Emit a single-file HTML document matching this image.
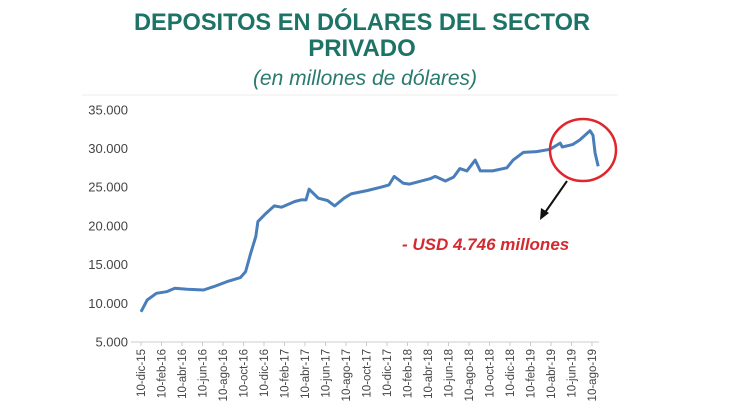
<!DOCTYPE html>
<html><head><meta charset="utf-8"><style>
body{margin:0;background:#fff;}
svg{display:block;font-family:"Liberation Sans",sans-serif;}
</style></head><body>
<svg width="730" height="410" viewBox="0 0 730 410">
<text x="362" y="30" text-anchor="middle" font-size="24" font-weight="bold" fill="#1d7466" textLength="456" lengthAdjust="spacingAndGlyphs">DEPOSITOS EN DÓLARES DEL SECTOR</text>
<text x="362" y="56" text-anchor="middle" font-size="24" font-weight="bold" fill="#1d7466">PRIVADO</text>
<text x="365" y="85" text-anchor="middle" font-size="21" font-style="italic" fill="#2a7a6e">(en millones de dólares)</text>
<line x1="82" y1="95" x2="618" y2="95" stroke="#eee" stroke-width="1"/>
<g id="yaxis"></g>
<g id="xaxis"></g>
<path id="line" fill="none" stroke="#4a7ebb" stroke-width="3" stroke-linejoin="round"/>
<ellipse cx="583" cy="150" rx="33" ry="31" fill="none" stroke="#e0262c" stroke-width="2.5"/>
<line x1="567" y1="181" x2="544" y2="214" stroke="#111" stroke-width="2"/>
<polygon points="540,220 541,208 549,213" fill="#111"/>
<text x="402" y="250" font-size="17" font-weight="bold" font-style="italic" fill="#d42a2f">- USD 4.746 millones</text>
</svg>
<script>
const yTicks=[5000,10000,15000,20000,25000,30000,35000];
const yTickLabels=["5.000","10.000","15.000","20.000","25.000","30.000","35.000"];
const xTickLabels=["10-dic-15","10-feb-16","10-abr-16","10-jun-16","10-ago-16","10-oct-16","10-dic-16","10-feb-17","10-abr-17","10-jun-17","10-ago-17","10-oct-17","10-dic-17","10-feb-18","10-abr-18","10-jun-18","10-ago-18","10-oct-18","10-dic-18","10-feb-19","10-abr-19","10-jun-19","10-ago-19"];
const months=[0,0.6,1.5,2.5,3.3,4.5,6.1,7.1,8.4,9.7,10.2,10.7,11.2,11.4,12.2,13.0,13.7,15.0,15.6,16.1,16.4,17.3,18.2,18.9,19.8,20.5,22.1,23.4,24.2,24.7,25.6,26.2,28.2,28.7,29.7,30.5,31.1,31.8,32.6,33.1,34.3,35.7,36.3,37.3,38.6,39.9,40.9,41.1,42.1,42.8,43.8,44.1,44.3,44.6];
const deposits=[8900,10430,11290,11500,11940,11810,11720,12160,12800,13320,14100,16470,18620,20560,21640,22590,22410,23150,23360,23360,24740,23580,23280,22590,23580,24140,24570,25000,25300,26400,25500,25400,26100,26400,25800,26300,27400,27100,28500,27100,27100,27500,28500,29500,29600,29900,30700,30200,30500,31100,32300,31700,29400,27700];
const NS='http://www.w3.org/2000/svg';
const x=m=>141+m*10.25;
const y=v=>342-(v-5000)/5000*38.7;
const ya=document.getElementById('yaxis'),xa=document.getElementById('xaxis');
yTicks.forEach((t,i)=>{const e=document.createElementNS(NS,'text');
e.setAttribute('x',128);e.setAttribute('y',y(t)+4.5);e.setAttribute('text-anchor','end');e.setAttribute('font-size','13');e.setAttribute('fill','#444');


e.textContent=yTickLabels[i];ya.appendChild(e);});
const ax=document.createElementNS(NS,'line');
ax.setAttribute('x1',131);ax.setAttribute('x2',599);ax.setAttribute('y1',342);ax.setAttribute('y2',342);ax.setAttribute('stroke','#ccc');


xa.appendChild(ax);
xTickLabels.forEach((l,i)=>{const px=x(i*2);
const tk=document.createElementNS(NS,'line');
tk.setAttribute('x1',px);tk.setAttribute('x2',px);tk.setAttribute('y1',342);tk.setAttribute('y2',346);tk.setAttribute('stroke','#ccc');


xa.appendChild(tk);
const e=document.createElementNS(NS,'text');
e.setAttribute('transform','translate('+(px+4)+',349) rotate(-90)');e.setAttribute('text-anchor','end');e.setAttribute('font-size','11.5');e.setAttribute('fill','#444');


e.textContent=l;xa.appendChild(e);});
document.getElementById('line').setAttribute('d',months.map((m,i)=>(i?'L':'M')+x(m).toFixed(1)+','+y(deposits[i]).toFixed(1)).join(''));
</script>
</body></html>
